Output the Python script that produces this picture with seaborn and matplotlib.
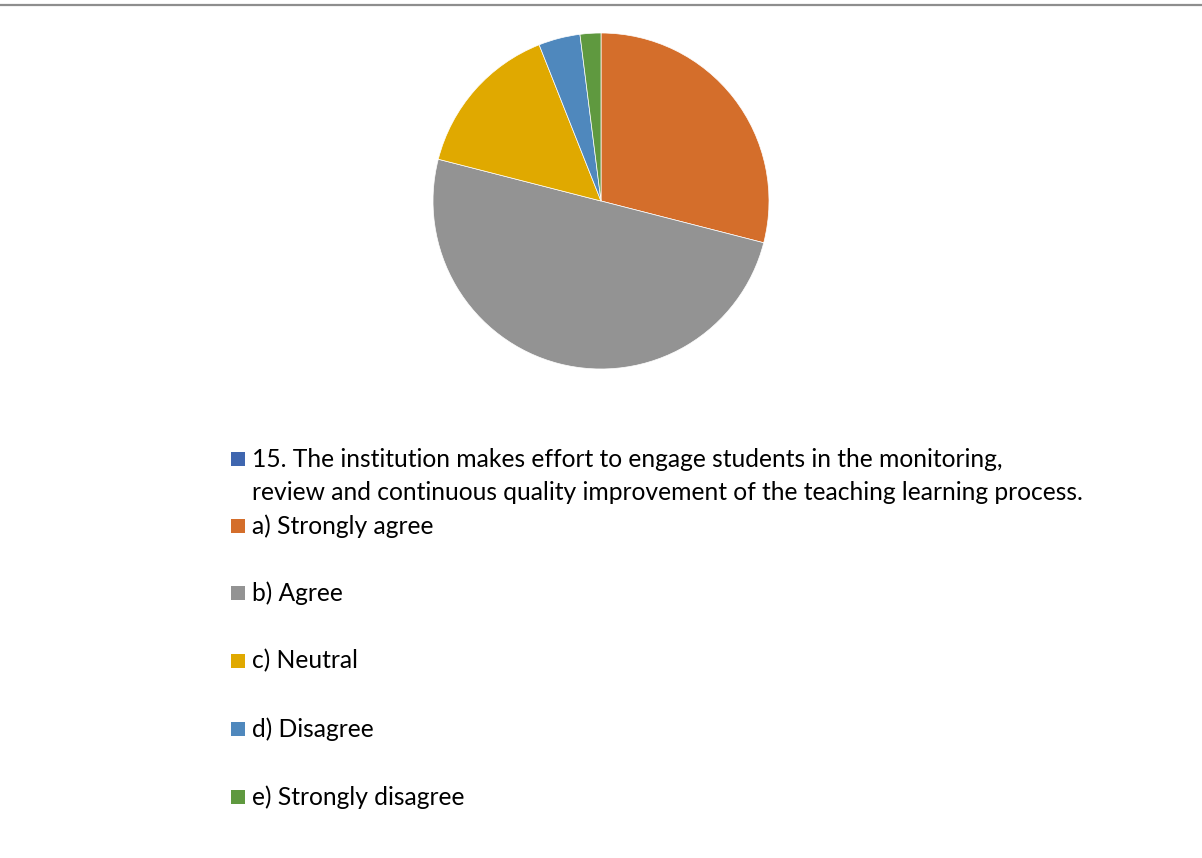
import matplotlib
matplotlib.use("Agg")
import matplotlib.pyplot as plt
from matplotlib.patches import Rectangle
from matplotlib.lines import Line2D
import seaborn as sns

# Survey responses (percent of respondents)
question = ("15. The institution makes effort to engage students in the monitoring,\n"
            "review and continuous quality improvement of the teaching learning process.")
categories = ["a) Strongly agree", "b) Agree", "c) Neutral", "d) Disagree", "e) Strongly disagree"]
values = [29, 50, 15, 4, 2]

question_color = "#3F66AF"
slice_colors = ["#D46E2B", "#939393", "#E0A900", "#4F88BD", "#5F993F"]

sns.set_theme(style="white")
plt.rcParams["font.family"] = ["Lato", "DejaVu Sans"]
palette = sns.color_palette(slice_colors)

W, H = 1202, 858
fig = plt.figure(figsize=(W / 100, H / 100), dpi=100)
fig.patch.set_facecolor("white")

# thin rule across the top
fig.add_artist(Line2D([0, 1], [1 - 4.5 / H, 1 - 4.5 / H], transform=fig.transFigure,
                      color="#8E8E8E", linewidth=1.6))

# pie area: centre (601, 201), radius 168 px
cx, cy, r = 601, 201, 168
ax = fig.add_axes([(cx - r) / W, 1 - (cy + r) / H, 2 * r / W, 2 * r / H])
ax.pie(values, colors=palette, startangle=90, counterclock=False, radius=1,
       wedgeprops=dict(edgecolor="white", linewidth=0.5))
ax.set_xlim(-1.0, 1.0)
ax.set_ylim(-1.0, 1.0)
ax.set_aspect("equal")
ax.axis("off")

# legend, drawn entry by entry
fs = 17.7
sq = 14
x_sq, x_txt = 231, 252

def legend_entry(y_px, color):
    fig.add_artist(Rectangle((x_sq / W, 1 - (y_px + sq / 2) / H), sq / W, sq / H,
                             transform=fig.transFigure, facecolor=color, edgecolor="none"))

legend_entry(459, question_color)
fig.text(x_txt / W, 1 - 459 / H, question.split("\n")[0], fontsize=fs, va="center", ha="left", color="black")
fig.text(x_txt / W, 1 - 492 / H, question.split("\n")[1], fontsize=fs, va="center", ha="left", color="black")

ys = [526, 593, 661, 729, 797]
for y, c, lab in zip(ys, palette, categories):
    legend_entry(y, c)
    fig.text(x_txt / W, 1 - y / H, lab, fontsize=fs, va="center", ha="left", color="black")

fig.savefig("out.png", dpi=100, facecolor="white")
